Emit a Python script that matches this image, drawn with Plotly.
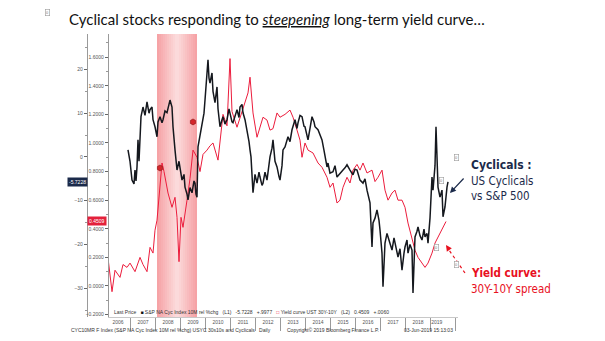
import plotly.graph_objects as go

# ---------------- data ----------------
black_x = [2006.90, 2006.98, 2007.06, 2007.14, 2007.18, 2007.22, 2007.26, 2007.30, 2007.34, 2007.38,
           2007.42, 2007.50, 2007.58, 2007.66, 2007.74, 2007.78, 2007.86, 2007.90, 2007.98, 2008.06,
           2008.10, 2008.18, 2008.26, 2008.30, 2008.38, 2008.46, 2008.54, 2008.58, 2008.66, 2008.70,
           2008.78, 2008.86, 2008.94, 2009.02, 2009.06, 2009.14, 2009.18, 2009.26, 2009.30, 2009.38,
           2009.46, 2009.54, 2009.58, 2009.62, 2009.66, 2009.70, 2009.78, 2009.86, 2009.94, 2009.98,
           2010.06, 2010.10, 2010.14, 2010.18, 2010.26, 2010.30, 2010.38, 2010.46, 2010.50, 2010.58,
           2010.66, 2010.70, 2010.78, 2010.86, 2010.94, 2010.98, 2011.06, 2011.10, 2011.18, 2011.26,
           2011.34, 2011.38, 2011.46, 2011.50, 2011.58, 2011.66, 2011.74, 2011.78, 2011.82, 2011.90,
           2011.98, 2012.06, 2012.14, 2012.18, 2012.26, 2012.30, 2012.38, 2012.46, 2012.54, 2012.58,
           2012.66, 2012.70, 2012.78, 2012.86, 2012.94, 2012.98, 2013.06, 2013.10, 2013.18, 2013.30,
           2013.38, 2013.46, 2013.58, 2013.66, 2013.70, 2013.78, 2013.86, 2013.94, 2013.98, 2014.10,
           2014.18, 2014.26, 2014.34, 2014.38, 2014.50, 2014.58, 2014.66, 2014.74, 2014.78, 2014.86,
           2014.90, 2014.98, 2015.10, 2015.18, 2015.26, 2015.38, 2015.50, 2015.58, 2015.66, 2015.78,
           2015.90, 2015.98, 2016.06, 2016.18, 2016.30, 2016.38, 2016.46, 2016.58, 2016.62, 2016.66,
           2016.70, 2016.78, 2016.86, 2016.94, 2016.98, 2017.06, 2017.10, 2017.14, 2017.18, 2017.26,
           2017.30, 2017.38, 2017.46, 2017.54, 2017.58, 2017.66, 2017.70, 2017.78, 2017.86, 2017.94,
           2017.98, 2018.06, 2018.10, 2018.18, 2018.26, 2018.30, 2018.34, 2018.38, 2018.46, 2018.50,
           2018.58, 2018.66, 2018.74, 2018.78, 2018.86, 2018.90, 2018.98, 2019.06, 2019.10, 2019.18,
           2019.22, 2019.26, 2019.30, 2019.38, 2019.46, 2019.50, 2019.58, 2019.66, 2019.70]
black_y = [1.6, -1.0, -5.3, -6.2, -3.0, -5.5, -2.3, 3.9, -1.0, 6.0,
           9.2, 11.4, 9.5, 12.6, 10.0, 10.8, 11.4, 8.5, 6.9, 4.6,
           8.0, 9.2, 7.8, 8.5, 10.5, 10.1, 12.0, 13.0, 11.4, 6.9,
           1.6, -3.0, -1.0, -4.5, -5.3, -4.0, -6.9, -8.5, -9.8, -7.0,
           -8.2, -5.5, -6.0, -8.5, -9.2, 2.3, 5.0, 6.9, 10.0, 13.0,
           19.2, 22.2, 18.0, 16.9, 19.2, 15.0, 12.4, 16.0, 11.0, 6.9,
           8.5, 9.2, 7.5, 8.5, 11.0, 10.1, 8.0, 7.8, 9.5, 10.8,
           9.0, 11.4, 12.0, 10.1, 8.5, 6.2, 3.5, 1.6, 0.0, -8.2,
           -4.0, -6.0, -3.5, -4.6, -6.5, -6.0, -3.5, -5.3, -2.0, 0.0,
           2.0, 3.9, -1.0, -2.3, -4.5, -5.3, -2.0, 1.6, 2.3, 4.6,
           3.5, 6.2, 8.5, 6.5, 7.8, 9.5, 9.2, 7.0, 6.9, 3.9,
           6.5, 9.2, 8.0, 6.9, 6.2, 5.0, 3.9, 1.5, 0.0, -2.3,
           -1.4, -3.7, -3.4, -2.0, -4.6, -3.7, -3.0, -2.5, -1.8, -3.0,
           -4.1, -2.8, -3.0, -5.3, -6.0, -5.0, -7.6, -10.5, -15.0, -20.6,
           -15.1, -14.0, -12.1, -14.5, -16.7, -22.0, -29.7, -24.0, -19.7, -17.5,
           -18.3, -20.0, -21.3, -18.5, -19.7, -21.5, -22.9, -21.0, -25.9, -22.0,
           -20.6, -19.0, -22.0, -20.0, -21.3, -31.1, -24.0, -18.3, -17.0, -16.0,
           -18.0, -19.0, -16.5, -18.3, -17.5, -19.7, -14.0, -4.6, -7.6, -2.0,
           6.9, -2.3, -6.9, -9.2, -7.6, -13.7, -11.4, -6.9, -5.7228]

red_x = [2006.10, 2006.26, 2006.38, 2006.58, 2006.70, 2006.86, 2006.98, 2007.18, 2007.38, 2007.50,
         2007.66, 2007.78, 2007.90, 2007.98, 2008.06, 2008.18, 2008.26, 2008.34, 2008.50, 2008.66,
         2008.78, 2008.86, 2008.94, 2009.02, 2009.10, 2009.26, 2009.38, 2009.50, 2009.66, 2009.78,
         2009.90, 2010.06, 2010.18, 2010.30, 2010.50, 2010.70, 2010.86, 2010.98, 2011.06, 2011.26,
         2011.38, 2011.50, 2011.70, 2011.78, 2011.90, 2012.06, 2012.18, 2012.30, 2012.46, 2012.58,
         2012.70, 2012.86, 2012.98, 2013.18, 2013.38, 2013.50, 2013.66, 2013.78, 2013.86, 2013.98,
         2014.10, 2014.30, 2014.50, 2014.66, 2014.86, 2014.98, 2015.10, 2015.26, 2015.38, 2015.50,
         2015.66, 2015.78, 2015.90, 2016.06, 2016.18, 2016.30, 2016.46, 2016.66, 2016.78, 2016.90,
         2017.06, 2017.18, 2017.30, 2017.46, 2017.58, 2017.70, 2017.86, 2017.98, 2018.10, 2018.26,
         2018.38, 2018.50, 2018.66, 2018.78, 2018.90, 2019.06, 2019.18, 2019.30, 2019.46, 2019.58,
         2019.62]
red_y = [0.196, -0.04, 0.11, 0.06, 0.15, 0.13, 0.16, 0.10, 0.20, 0.15,
         0.10, 0.27, 0.23, 0.39, 0.46, 0.67, 0.86, 0.80, 0.65, 0.55,
         0.62, 0.48, 0.17, 0.48, 0.41, 0.60, 0.75, 0.95, 0.90, 0.80,
         0.92, 0.95, 0.98, 1.00, 0.88, 1.20, 1.12, 1.59, 1.22, 1.11,
         1.18, 1.25, 1.35, 1.46, 1.21, 1.04, 1.12, 1.18, 1.16, 1.09,
         1.10, 1.21, 1.18, 1.20, 1.23, 1.18, 1.09, 1.02, 0.90, 1.00,
         0.95, 0.93, 0.86, 0.83, 0.76, 0.69, 0.72, 0.58, 0.60, 0.69,
         0.76, 0.72, 0.81, 0.85, 0.81, 0.86, 0.79, 0.81, 0.73, 0.76,
         0.81, 0.67, 0.60, 0.65, 0.67, 0.60, 0.60, 0.55, 0.44, 0.34,
         0.25, 0.20, 0.16, 0.13, 0.16, 0.23, 0.30, 0.34, 0.39, 0.44,
         0.4509]

years = list(range(2006, 2020))
year_labels = [str(y) for y in years]
rec_start, rec_end = 2008.06, 2009.66
flag_x = [2008.18, 2009.50]
flag_y = [0.825, 1.147]
last_black = -5.7228
last_red = 0.4509

# ---------------- layout helpers ----------------
W, H = 605, 341
def px(x):
    return x / W
def py(y):
    return 1 - y / H

NAVY = "#1b2a4a"
RED = "#ec1c3c"
TICKFONT = dict(family="Liberation Sans, Arial", size=5, color="#555555")
NARROW = "DejaVu Sans Condensed, Liberation Sans Narrow, Arial Narrow, Liberation Sans, Arial"

fig = go.Figure()

# recession shading with a soft gradient (darker at edges)
n = 20
for i in range(n):
    t0 = rec_start + (rec_end - rec_start) * i / n
    t1 = rec_start + (rec_end - rec_start) * (i + 1) / n
    c = (i + 0.5) / n
    d = abs(c - 0.5) * 2
    r = int(252 - 6 * d)
    g = int(222 - 62 * d)
    b = int(222 - 58 * d)
    fig.add_vrect(x0=t0, x1=t1, fillcolor=f"rgb({r},{g},{b})", line_width=0, layer="below")

fig.add_trace(go.Scatter(x=red_x, y=red_y, yaxis="y", mode="lines",
                         line=dict(color=RED, width=1.0), showlegend=False))
fig.add_trace(go.Scatter(x=black_x, y=black_y, yaxis="y2", mode="lines",
                         line=dict(color="#15181e", width=1.5), showlegend=False))
fig.add_trace(go.Scatter(x=flag_x, y=flag_y, yaxis="y", mode="markers",
                         marker=dict(symbol="hexagon", size=6, color="#d3262b",
                                     line=dict(color="#8a1010", width=0.6)),
                         showlegend=False))

mid = [y + 0.5 for y in years[:-1]] + [(years[-1] + black_x[-1]) / 2 - 0.1]

fig.update_layout(
    width=W, height=H, margin=dict(l=0, r=0, t=0, b=0),
    paper_bgcolor="white", plot_bgcolor="white",
    xaxis=dict(domain=[px(108), px(458)], range=[2006.10, 2020.10],
               tickmode="array", tickvals=mid, ticktext=year_labels, ticks="",
               tickfont=TICKFONT, showgrid=False, zeroline=False,
               showline=True, linecolor="#c8c8c8", linewidth=1,
               minor=dict(tickmode="array", tickvals=years + [2020], ticks="outside",
                          ticklen=13, tickcolor="#9a9a9a", tickwidth=1, showgrid=False)),
    yaxis=dict(domain=[py(317), py(34)], range=[-0.217, 1.762], anchor="free",
               position=px(108), side="left", tickmode="linear", tick0=0, dtick=0.2,
               tickformat=".4f", ticks="outside", ticklen=3, tickcolor="#666",
               tickfont=TICKFONT, showgrid=False, zeroline=False,
               showline=True, linecolor="#9a9a9a", linewidth=1.2,
               minor=dict(dtick=0.1, ticks="outside", ticklen=2, tickcolor="#999")),
    yaxis2=dict(domain=[py(317), py(34)], range=[-36.6, 28.1], anchor="free",
                overlaying="y", position=px(87), side="left", tickmode="linear",
                tick0=0, dtick=10, ticks="outside", ticklen=3, tickcolor="#666",
                tickfont=TICKFONT, showgrid=False, zeroline=False,
                showline=True, linecolor="#9a9a9a", linewidth=1.2,
                minor=dict(dtick=5, ticks="outside", ticklen=2, tickcolor="#999")),
)

ann = []
# title
ann.append(dict(xref="paper", yref="paper", x=px(67), y=py(19), xanchor="left", yanchor="middle",
                text="Cyclical stocks responding to <i><u>steepening</u></i> long-term yield curve…",
                showarrow=False, font=dict(family="Lato, Open Sans", size=15, color="#111111")))
# current value tags
ann.append(dict(xref="paper", yref="y2", x=px(88), y=last_black, xanchor="right", yanchor="middle",
                text=f"{last_black:.4f}", showarrow=False, bgcolor=NAVY, borderpad=1,
                font=dict(family="Liberation Sans", size=5, color="white")))
ann.append(dict(xref="paper", yref="y", x=px(107), y=last_red, xanchor="right", yanchor="middle",
                text=f"{last_red:.4f}", showarrow=False, bgcolor="#e3213b", borderpad=1,
                font=dict(family="Liberation Sans", size=5, color="white")))
# bottom legend strip
ann.append(dict(xref="paper", yref="paper", x=px(112), y=py(312), xanchor="left", yanchor="middle",
                text=("Last Price   <span style='color:#111'>■</span> S&P NA Cyc Index 10M rel %chg   (L1)   "
                      f"{last_black:.4f}   +.9977   <span style='color:{RED}'>□</span> Yield curve UST 30Y-10Y   (L2)   "
                      f"{last_red:.4f}   +.0060"),
                showarrow=False, font=dict(family="Liberation Sans", size=5, color="#333")))
# footer
ann.append(dict(xref="paper", yref="paper", x=px(69), y=py(330), xanchor="left", yanchor="middle",
                text="CYC10MR F Index (S&P NA Cyc Index 10M rel %chg) USYC 30s10s and Cyclicals   Daily",
                showarrow=False, font=dict(family="Liberation Sans", size=5, color="#333")))
ann.append(dict(xref="paper", yref="paper", x=px(285), y=py(330), xanchor="left", yanchor="middle",
                text="Copyright© 2019 Bloomberg Finance L.P.",
                showarrow=False, font=dict(family="Liberation Sans", size=5, color="#333")))
ann.append(dict(xref="paper", yref="paper", x=px(455), y=py(330), xanchor="right", yanchor="middle",
                text="03-Jun-2019 15:13:03",
                showarrow=False, font=dict(family="Liberation Sans", size=5, color="#333")))
# small gray boxes
for bx, by in [(47, 13), (457, 157), (441, 180), (436, 247), (457, 264)]:
    ann.append(dict(xref="paper", yref="paper", x=px(bx), y=py(by), xanchor="center", yanchor="middle",
                    text="0", showarrow=False, bordercolor="#9a9a9a", borderwidth=0.6, borderpad=0.5,
                    bgcolor="white", font=dict(family="Liberation Sans", size=4, color="#777")))
# right-side labels
ann.append(dict(xref="paper", yref="paper", x=px(469), y=py(165), xanchor="left", yanchor="middle",
                text="<b>Cyclicals :</b>", showarrow=False,
                font=dict(family=NARROW, size=12, color=NAVY)))
ann.append(dict(xref="paper", yref="paper", x=px(469), y=py(189), xanchor="left", yanchor="middle",
                text="US Cyclicals<br>vs S&P 500", showarrow=False, align="left",
                font=dict(family=NARROW, size=11.5, color=NAVY)))
ann.append(dict(xref="paper", yref="paper", x=px(469), y=py(273), xanchor="left", yanchor="middle",
                text="<b>Yield curve:</b>", showarrow=False,
                font=dict(family=NARROW, size=11.5, color="#e8101e")))
ann.append(dict(xref="paper", yref="paper", x=px(469), y=py(289), xanchor="left", yanchor="middle",
                text="30Y-10Y spread", showarrow=False,
                font=dict(family=NARROW, size=11.5, color="#e8101e")))
# arrows
ann.append(dict(xref="paper", yref="paper", x=px(450), y=py(193), ax=15, ay=-16, text="",
                showarrow=True, arrowhead=2, arrowsize=1, arrowwidth=1.2, arrowcolor=NAVY))
ann.append(dict(xref="paper", yref="paper", x=px(446), y=py(245), ax=4, ay=6, text="",
                showarrow=True, arrowhead=2, arrowsize=1, arrowwidth=1.2, arrowcolor="#e8101e"))
fig.update_layout(annotations=ann)
fig.add_shape(type="line", xref="paper", yref="paper", x0=px(465), y0=py(273), x1=px(449), y1=py(250),
              line=dict(color="#e8101e", width=1.2, dash="dot"))

fig.write_html("out.html")
